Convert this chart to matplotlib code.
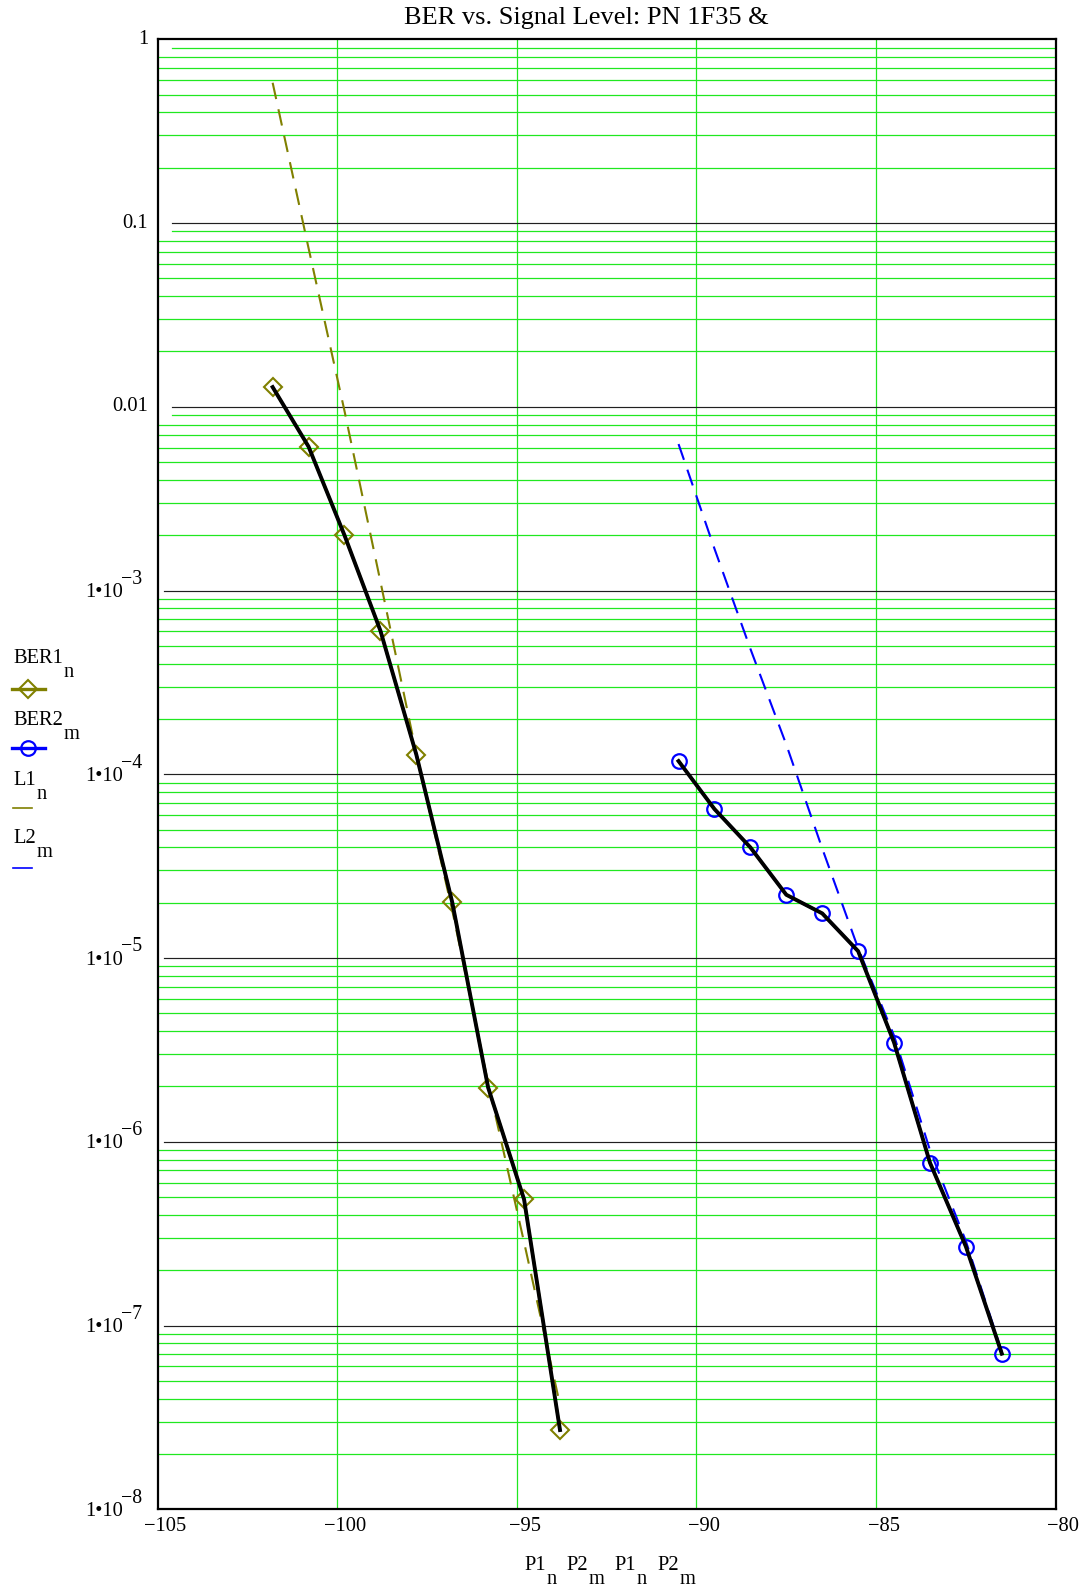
import numpy as np
import matplotlib.pyplot as plt
from matplotlib.lines import Line2D
from matplotlib.ticker import NullLocator

plt.rcParams['font.family'] = ['Liberation Serif', 'DejaVu Serif']

# BER1 / L1 against P1 (olive), BER2 / L2 against P2 (blue)
P1 = [-101.8, -100.8, -99.8, -98.8, -97.8, -96.8, -95.8, -94.8, -93.8]
BER1 = [1.28e-2, 6.07e-3, 2.0e-3, 6.05e-4, 1.28e-4, 2.01e-5, 1.97e-6, 4.86e-7, 2.70e-8]
L1 = [0.58, 7.3e-2, 9.5e-3, 1.12e-3, 1.30e-4, 1.82e-5, 2.08e-6, 2.84e-7, 3.7e-8]

P2 = [-90.5, -89.5, -88.5, -87.5, -86.5, -85.5, -84.5, -83.5, -82.5, -81.5]
BER2 = [1.18e-4, 6.47e-5, 4.0e-5, 2.21e-5, 1.75e-5, 1.09e-5, 3.47e-6, 7.69e-7, 2.69e-7, 7.03e-8]
L2 = [6.27e-3, 1.69e-3, 4.82e-4, 1.45e-4, 3.95e-5, 1.13e-5, 3.78e-6, 9.0e-7, 2.88e-7, 7.2e-8]

xticks = [-105, -100, -95, -90, -85, -80]
xgrid = [-100, -95, -90, -85]
decades = list(range(0, 9))   # 10^0 .. 10^-8

W, H = 1088, 1589
olive = '#808000'
green = '#20e820'
fs = 14.8
dmark = dict(marker='D', ms=9.6, mfc='none', mec=olive, mew=1.5)
cmark = dict(marker='o', ms=10.5, mfc='none', mec='blue', mew=1.6)

def fp(x, y):
    # pixel position -> figure fraction
    return x / W, 1 - y / H

fig = plt.figure(figsize=(W / 100, H / 100), dpi=100)
ax = fig.add_axes([157.7 / W, 1 - 1509.3 / H, 898 / W, 1470 / H])
ax.set_xlim(-105, -80)
ax.set_yscale('log')
ax.set_ylim(1e-8, 1)
ax.set_xticks([])
ax.set_yticks([])
ax.yaxis.set_minor_locator(NullLocator())
for s in ax.spines.values():
    s.set_linewidth(1.6)
    s.set_zorder(10)

# grid: green minor lines, dark decade lines
for k in range(8):
    for m in range(2, 10):
        xm = 0.016 if (m == 9 and k <= 2) else 0
        ax.axhline(m * 10.0 ** -(k + 1), xmin=xm, color=green, lw=0.9, zorder=1)
for e in range(1, 8):
    xm = 0.016 if e <= 2 else 0.007
    ax.axhline(10.0 ** -e, xmin=xm, color='#202020', lw=0.85, zorder=1.5)
for x in xgrid:
    ax.axvline(x, color=green, lw=0.9, zorder=1)

# traces
ax.plot(P1, BER1, color=olive, lw=2, zorder=3, **dmark)
ax.plot(P2, BER2, color='blue', lw=2, zorder=3, **cmark)
ax.plot(P1, L1, color=olive, lw=1.5, dashes=(8, 5), zorder=4)
ax.plot(P2, L2, color='blue', lw=1.5, dashes=(8, 5), zorder=4)
ax.plot(P1, BER1, color='k', lw=2.8, zorder=5)
ax.plot(P2, BER2, color='k', lw=2.8, zorder=5)

# y labels
simple = {0: '1', 1: '0.1', 2: '0.01'}
for e in decades:
    y = 10.0 ** -e
    if e in simple:
        ax.annotate(simple[e], xy=(0, y), xycoords=('axes fraction', 'data'),
                    xytext=(-7, 0), textcoords='offset points',
                    ha='right', va='center', fontsize=fs, annotation_clip=False)
    else:
        ax.annotate('1\u202210', xy=(0, y), xycoords=('axes fraction', 'data'),
                    xytext=(-25.2, -1.5), textcoords='offset points',
                    ha='right', va='center', fontsize=fs, annotation_clip=False)
        ax.annotate('\u2212%d' % e, xy=(0, y), xycoords=('axes fraction', 'data'),
                    xytext=(-26.4, 8), textcoords='offset points',
                    ha='left', va='center', fontsize=14.3, annotation_clip=False)

# x labels
for x in xticks:
    ax.annotate('\u2212%d' % abs(x), xy=(x, 0), xycoords=('data', 'axes fraction'),
                xytext=(5.5, -12.5), textcoords='offset points',
                ha='center', va='center', fontsize=fs, annotation_clip=False)

fig.text(*fp(586, 18), 'BER vs. Signal Level: PN 1F35 &', ha='center', va='center', fontsize=19)

def sublabel(x, y, main, sub):
    t = fig.text(*fp(x, y), main, ha='left', va='baseline', fontsize=fs)
    ax.annotate(sub, xy=(1, 0), xycoords=t, xytext=(0.3, -6.5), textcoords='offset points',
                ha='left', va='baseline', fontsize=fs, annotation_clip=False)

# axis title under the x axis
for x, main, sub in [(524.8, 'P1', 'n'), (566.5, 'P2', 'm'), (614.4, 'P1', 'n'), (657.3, 'P2', 'm')]:
    sublabel(x, 1570, main, sub)

# legend on the left
sublabel(13, 663.3, 'BER1', 'n')
sublabel(13, 725, 'BER2', 'm')
sublabel(13, 785, 'L1', 'n')
sublabel(13, 843.3, 'L2', 'm')

def fline(x0, x1, y, **kw):
    (a, b), (c, _) = fp(x0, y), fp(x1, y)
    fig.add_artist(Line2D([a, c], [b, b], transform=fig.transFigure, **kw))

fline(12, 45, 688.7, color=olive, lw=2.4)
fig.add_artist(Line2D([fp(27.7, 0)[0]], [fp(0, 688.7)[1]], transform=fig.transFigure,
                      ls='none', **dmark))
fline(12, 45, 748.3, color='blue', lw=2.4)
fig.add_artist(Line2D([fp(28, 0)[0]], [fp(0, 748.3)[1]], transform=fig.transFigure,
                      ls='none', **cmark))
fline(13, 32, 808.3, color=olive, lw=1.2)
fline(13, 32, 868, color='blue', lw=1.2)

fig.savefig('out.png', dpi=100)
